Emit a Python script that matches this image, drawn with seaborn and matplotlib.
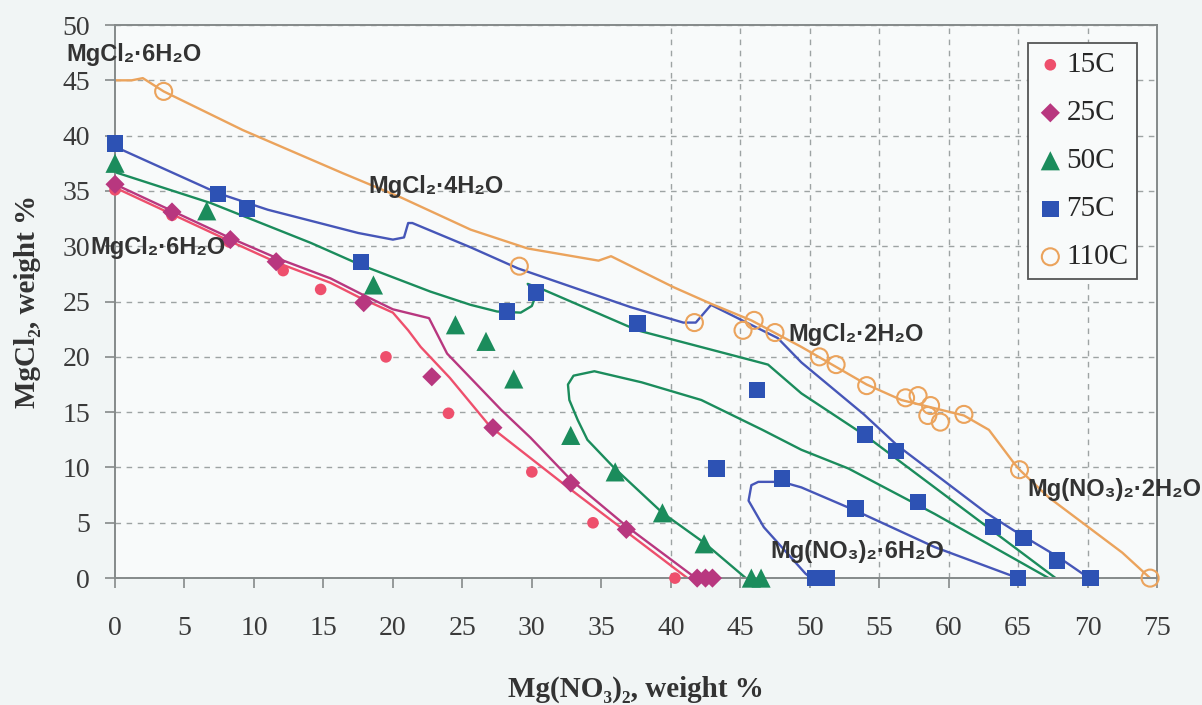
import matplotlib
matplotlib.use('Agg')
import matplotlib.pyplot as plt
import seaborn as sns

# measured points, Mg(NO3)2 wt% (x) vs MgCl2 wt% (y)
x_15 = [0.0, 4.1, 8.2, 12.1, 14.8, 19.5, 24.0, 30.0, 34.4, 40.3]
y_15 = [35.1, 32.8, 30.4, 27.8, 26.1, 20.0, 14.9, 9.6, 5.0, 0.0]

x_25 = [0.0, 4.1, 8.3, 11.6, 17.9, 22.8, 27.2, 32.8, 36.8, 41.9, 42.5, 43.0]
y_25 = [35.6, 33.1, 30.6, 28.6, 24.9, 18.2, 13.6, 8.6, 4.4, 0.0, 0.0, 0.0]

x_50 = [0.0, 6.6, 18.6, 24.5, 26.7, 28.7, 32.8, 36.0, 39.4, 42.4, 45.8, 46.5]
y_50 = [37.5, 33.2, 26.5, 22.9, 21.4, 18.0, 12.9, 9.6, 5.9, 3.1, 0.0, 0.0]

x_75 = [0.0, 7.4, 9.5, 17.7, 28.2, 30.3, 37.6, 43.3, 46.2, 48.0, 50.4, 51.2,
        53.3, 54.0, 56.2, 57.8, 63.2, 65.0, 65.4, 67.8, 70.2]
y_75 = [39.3, 34.7, 33.4, 28.6, 24.1, 25.8, 23.0, 9.9, 17.0, 9.0, 0.0, 0.0,
        6.3, 13.0, 11.5, 6.9, 4.6, 0.0, 3.6, 1.6, 0.0]

x_110 = [3.5, 29.1, 41.7, 45.2, 46.0, 47.5, 50.7, 51.9, 54.1, 56.9, 57.8,
         58.7, 58.5, 59.4, 61.1, 65.1, 74.5]
y_110 = [44.0, 28.2, 23.1, 22.4, 23.3, 22.2, 20.0, 19.3, 17.4, 16.3, 16.5,
         15.6, 14.7, 14.1, 14.8, 9.8, 0.0]

# model curves
c15_x = [0.0, 4.1, 8.2, 11.7, 15.5, 17.7, 20.0, 21.1, 22.0, 24.1, 27.0, 32.6, 36.9, 41.2]
c15_y = [35.3, 32.9, 30.5, 28.5, 26.7, 25.3, 24.0, 22.4, 20.9, 18.1, 13.7, 8.2, 4.1, 0.0]

c25_x = [0.0, 4.1, 8.2, 11.7, 15.5, 17.7, 20.0, 22.6, 23.9, 27.8, 29.9, 32.8, 36.9, 41.8]
c25_y = [35.6, 33.2, 30.8, 28.9, 27.1, 25.7, 24.3, 23.5, 20.3, 15.2, 12.7, 8.9, 4.6, 0.0]

c50a_x = [0.0, 6.9, 14.1, 17.7, 22.7, 25.6, 27.5, 29.2, 30.0, 30.3, 29.7, 30.6,
          37.6, 45.8, 47.0, 49.4, 54.1, 67.7]
c50a_y = [36.7, 33.9, 30.3, 28.3, 25.9, 24.7, 24.1, 24.0, 24.6, 25.6, 26.6, 26.2,
          22.4, 19.7, 19.3, 16.7, 12.8, 0.0]

c50b_x = [45.4, 42.4, 39.4, 35.9, 34.0, 33.3, 32.7, 32.6, 33.0, 34.5, 37.9,
          42.2, 46.6, 49.4, 52.8, 59.0, 67.2]
c50b_y = [0.0, 3.2, 5.9, 10.0, 12.5, 14.3, 16.1, 17.5, 18.3, 18.7, 17.7,
          16.1, 13.4, 11.6, 9.9, 5.8, 0.0]

c75a_x = [0.0, 7.4, 11.0, 14.1, 17.5, 20.0, 20.8, 21.1, 21.4, 25.6, 29.0, 37.1,
          40.9, 41.8, 42.9, 47.7, 49.4, 53.9, 56.3, 62.7, 64.7, 67.9, 70.1]
c75a_y = [39.0, 34.8, 33.3, 32.3, 31.2, 30.6, 30.8, 32.1, 32.1, 29.9, 28.0, 24.5,
          23.1, 23.1, 24.7, 21.7, 19.5, 14.8, 12.0, 5.9, 4.3, 1.9, 0.0]

c75b_x = [50.1, 49.7, 46.7, 45.6, 45.8, 46.3, 48.0, 49.4, 53.3, 59.0, 65.0]
c75b_y = [0.0, 0.4, 4.6, 7.0, 8.4, 8.7, 8.7, 8.2, 6.1, 2.8, 0.0]

c110_x = [0.0, 1.2, 2.0, 3.5, 9.2, 16.4, 20.6, 25.6, 29.7, 34.8, 35.7, 40.2, 42.9,
          45.8, 49.4, 54.1, 56.6, 61.1, 62.9, 64.7, 65.1, 67.2, 72.5, 74.5]
c110_y = [45.0, 45.0, 45.2, 44.0, 40.5, 36.6, 34.4, 31.5, 29.8, 28.7, 29.1, 26.3, 24.8,
          23.3, 20.9, 17.5, 16.1, 14.7, 13.4, 10.4, 9.8, 7.3, 2.3, 0.0]

labels = ['15C', '25C', '50C', '75C', '110C']

c_red = '#ee4f6c'
c_mag = '#b8377f'
c_green = '#1b8c5c'
c_blue = '#2d52b4'
c_blue_line = '#4656b8'
c_orange = '#eba35c'

sns.set_style('white')
plt.rcParams['font.family'] = ['Liberation Serif', 'DejaVu Serif']

fig, ax = plt.subplots(figsize=(12.02, 7.05), dpi=100)
fig.subplots_adjust(left=0.0957, right=0.9626, top=0.9645, bottom=0.18)
fig.patch.set_facecolor('#f1f5f5')
ax.set_facecolor('#f8fafa')

# grid: dashed horizontal lines everywhere, vertical only on the right part
ax.set_axisbelow(True)
ax.set_xticks(range(0, 80, 5))
ax.set_yticks(range(0, 55, 5))
ax.yaxis.grid(True, ls=(0, (4, 4)), color='#9da3a3', lw=1)
for v in ax.get_xticks():
    if 40 <= v <= 70:
        ax.axvline(v, ls=(0, (4, 4)), color='#9da3a3', lw=1, zorder=0)

curves = [(c15_x, c15_y, c_red), (c25_x, c25_y, c_mag),
          (c50a_x, c50a_y, c_green), (c50b_x, c50b_y, c_green),
          (c75a_x, c75a_y, c_blue_line), (c75b_x, c75b_y, c_blue_line),
          (c110_x, c110_y, c_orange)]
for cx, cy, col in curves:
    sns.lineplot(x=cx, y=cy, sort=False, estimator=None, color=col, lw=1.7,
                 ax=ax, zorder=2)

sns.scatterplot(x=x_15, y=y_15, ax=ax, color=c_red, marker='o', s=70,
                edgecolor='none', label=labels[0], zorder=3, clip_on=False)
sns.scatterplot(x=x_25, y=y_25, ax=ax, color=c_mag, marker='D', s=95,
                edgecolor='none', label=labels[1], zorder=3, clip_on=False)
sns.scatterplot(x=x_50, y=y_50, ax=ax, color=c_green, marker='^', s=190,
                edgecolor='none', label=labels[2], zorder=3, clip_on=False)
sns.scatterplot(x=x_75, y=y_75, ax=ax, color=c_blue, marker='s', s=140,
                edgecolor='none', label=labels[3], zorder=3, clip_on=False)
sns.scatterplot(x=x_110, y=y_110, ax=ax, marker='o', s=150, facecolor='none',
                edgecolor=c_orange, linewidth=1.5, label=labels[4], zorder=3,
                clip_on=False)

ax.set_xlim(0, 75)
ax.set_ylim(0, 50)

for sp in ax.spines.values():
    sp.set_color('#858a8a')
    sp.set_linewidth(1.4)
ax.tick_params(direction='out', length=7, width=1.2, color='#858a8a',
               labelsize=20, labelcolor='#3a3a3a', left=True, bottom=True)
ax.tick_params(axis='x', pad=20)
ax.tick_params(axis='y', pad=11)

ax.set_xlabel('Mg(NO₃)₂, weight %', fontsize=21, fontweight='bold',
              color='#333333', labelpad=25)
ax.set_ylabel('MgCl₂, weight %', fontsize=21, fontweight='bold',
              color='#333333', labelpad=15)

# phase annotations
notes = [(-3.5, 47.3, 'MgCl₂·6H₂O'), (18.2, 35.4, 'MgCl₂·4H₂O'),
         (-1.8, 29.9, 'MgCl₂·6H₂O'), (48.5, 22.0, 'MgCl₂·2H₂O'),
         (47.2, 2.4, 'Mg(NO₃)₂·6H₂O'), (65.7, 8.0, 'Mg(NO₃)₂·2H₂O')]
for tx, ty, s in notes:
    ax.text(tx, ty, s, fontsize=17, fontweight='bold', color='#333333',
            family=['Liberation Sans', 'DejaVu Sans'], ha='left', va='center',
            zorder=4)

handles, lbls = ax.get_legend_handles_labels()
leg = ax.legend(handles, lbls, loc='upper right', bbox_to_anchor=(0.981, 0.967),
                borderaxespad=0, fontsize=21, frameon=True, fancybox=False,
                framealpha=1, facecolor='#f8fafa', edgecolor='#555555',
                handletextpad=0.1, handlelength=0.9, labelspacing=0.74,
                borderpad=0.3)
leg.get_frame().set_linewidth(1.3)

fig.savefig('out.png', dpi=100, facecolor=fig.get_facecolor())
